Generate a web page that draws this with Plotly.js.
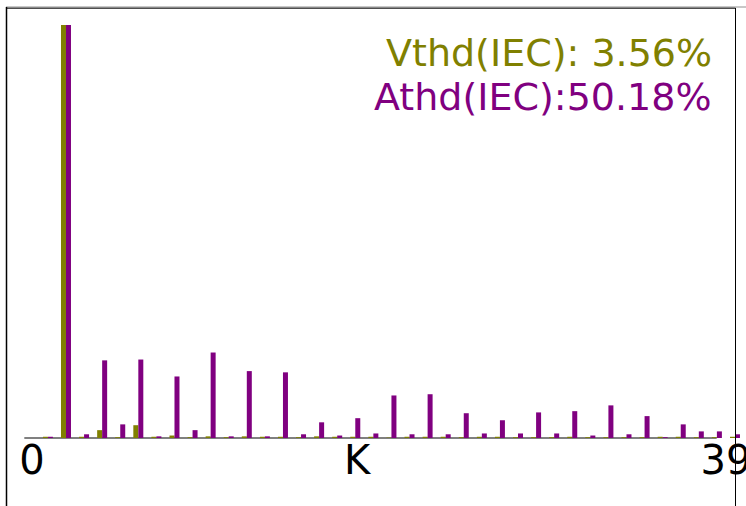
<!DOCTYPE html>
<html>
<head>
<meta charset="utf-8">
<script src="https://cdn.plot.ly/plotly-3.0.1.min.js"></script>
<style>html,body{margin:0;padding:0;background:#fff;}#chart{width:746px;height:506px;}</style>
</head>
<body>
<div id="chart"></div>
<script>
// Harmonic orders
const harmonics = [0,1,2,3,4,5,6,7,8,9,10,11,12,13,14,15,16,17,18,19,20,21,22,23,24,25,26,27,28,29,30,31,32,33,34,35,36,37,38,39];
// Voltage harmonic spectrum (% of fundamental)
const voltageValues = [0.3,100,0.3,1.9,0.2,3.1,0.3,0.6,0.2,0.4,0.2,0.4,0.3,0.3,0.2,0.4,0.3,0.3,0.3,0.1,0.3,0.3,0.3,0.2,0.3,0.3,0.2,0.2,0.2,0.3,0.2,0.2,0.2,0.2,0.3,0.3,0.2,0.2,0.3,0.2];
// Current harmonic spectrum (% of fundamental)
const currentValues = [0.3,100,0.9,18.8,3.3,19.0,0.4,14.9,1.9,20.7,0.4,16.2,0.4,15.9,0.9,3.8,0.6,4.8,1.1,10.3,0.9,10.6,0.9,6.0,1.1,4.3,1.1,6.2,1.1,6.5,0.6,7.9,0.9,5.3,0.2,3.3,1.6,1.6,0.9,0.5];
// Axis tick labels
const tickLabels = ['0','K','39'];
const tickPositions = [-0.88, 17.1, 37.5];
// THD readouts
const thdLabels = ['Vthd(IEC): 3.56%','Athd(IEC):50.18%'];

const OLIVE = '#808000', PURPLE = '#800080';
const W = 746, H = 506, B = 68, PH = H - B;
const py = p => (PH - p) / PH;   // pixel row -> paper y
const px = p => p / W;           // pixel column -> paper x

const traces = [
  {type:'bar', x:harmonics, y:voltageValues, marker:{color:OLIVE, line:{width:0}}, hoverinfo:'skip'},
  {type:'bar', x:harmonics, y:currentValues, marker:{color:PURPLE, line:{width:0}}, hoverinfo:'skip'}
];

const layout = {
  width: W, height: H,
  margin: {l:0, r:0, t:0, b:B, pad:0},
  paper_bgcolor:'#fff', plot_bgcolor:'#fff',
  showlegend:false,
  barmode:'group', bargap:0.447, bargroupgap:0,
  font:{family:'DejaVu Sans', color:'#000'},
  xaxis:{range:[-2.65, 38.61], showgrid:false, zeroline:false, showline:false, ticks:'',
         tickmode:'array', tickvals:tickPositions, ticktext:tickLabels, ticklabeloverflow:'allow',
         tickfont:{family:'DejaVu Sans', size:40, color:'#000'}, ticklabelstandoff:-5},
  yaxis:{range:[0, 106.06], visible:false, fixedrange:true},
  shapes:[
    {type:'line', xref:'paper', yref:'paper', x0:px(24.3), x1:px(716.7), y0:0, y1:0, line:{color:'#808080', width:2}, layer:'below'},
    {type:'line', xref:'paper', yref:'paper', x0:px(6), x1:px(746), y0:py(7), y1:py(7), line:{color:'#909090', width:1}},
    {type:'line', xref:'paper', yref:'paper', x0:px(6), x1:px(735.5), y0:py(8.2), y1:py(8.2), line:{color:'#000', width:1}},
    {type:'line', xref:'paper', yref:'paper', x0:px(6.5), x1:px(6.5), y0:py(7), y1:py(506), line:{color:'#000', width:1.5}},
    {type:'line', xref:'paper', yref:'paper', x0:px(735.5), x1:px(735.5), y0:py(8), y1:py(506), line:{color:'#000', width:1}}
  ],
  annotations:[
    {xref:'paper', yref:'paper', x:px(714), y:py(53), xanchor:'right', yanchor:'middle', showarrow:false,
     text:thdLabels[0], font:{family:'DejaVu Sans', size:38, color:OLIVE}},
    {xref:'paper', yref:'paper', x:px(714), y:py(97), xanchor:'right', yanchor:'middle', showarrow:false,
     text:thdLabels[1], font:{family:'DejaVu Sans', size:38, color:PURPLE}}
  ]
};

Plotly.newPlot('chart', traces, layout, {staticPlot:true, displayModeBar:false});
</script>
</body>
</html>
